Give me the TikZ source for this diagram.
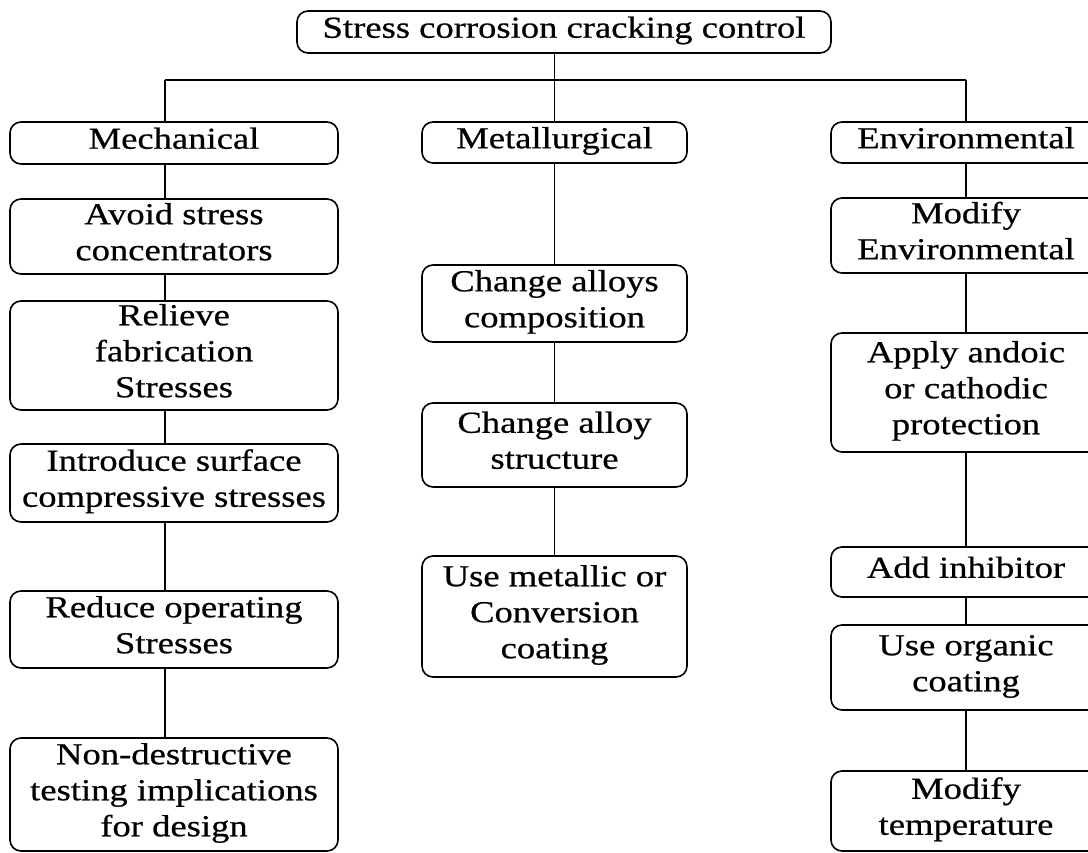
\documentclass[tikz,border=0pt]{standalone}
\usepackage{fontspec}
\setmainfont{Liberation Serif}[FakeStretch=1.2,FakeBold=0.6]
\newcommand{\sk}{\rule[-12pt]{0pt}{35.5pt}}
\begin{document}
\begin{tikzpicture}[x=1pt,y=-1pt,
  box/.style={draw, rounded corners=11pt, line width=1.6pt, inner sep=0pt, align=center,
    font=\fontsize{30.5}{36}\selectfont},
  lbox/.style={box, minimum width=328pt},
  mbox/.style={box, minimum width=265pt},
  rbox/.style={box, minimum width=270pt},
  conn/.style={line width=1.6pt}]
\useasboundingbox (0,0) rectangle (1088,853);
% top
\node[box, minimum width=534pt, minimum height=42pt] (top) at (564,32) {\sk Stress corrosion cracking control};
% left column
\node[lbox, minimum height=42pt] (mech) at (174,143) {\sk Mechanical};
\node[lbox, minimum height=75pt] (avoid) at (174,236.5) {\sk Avoid stress\\\sk concentrators};
\node[lbox, minimum height=109pt] (relieve) at (174,355.5) {\sk Relieve\\\sk fabrication\\\sk Stresses};
\node[lbox, minimum height=78pt] (intro) at (174,483) {\sk Introduce surface\\\sk compressive stresses};
\node[lbox, minimum height=77pt] (reduce) at (174,629.5) {\sk Reduce operating\\\sk Stresses};
\node[lbox, minimum height=113pt] (ndt) at (174,794.5) {\sk Non-destructive\\\sk testing implications\\\sk for design};
% middle column
\node[mbox, minimum height=41pt] (met) at (554.5,142.5) {\sk Metallurgical};
\node[mbox, minimum height=77pt] (comp) at (554.5,303.5) {\sk Change alloys\\\sk composition};
\node[mbox, minimum height=84pt] (struct) at (554.5,445) {\sk Change alloy\\\sk structure};
\node[mbox, minimum height=121pt] (metal) at (554.5,616.5) {\sk Use metallic or\\\sk Conversion\\\sk coating};
% right column
\node[rbox, minimum height=41pt] (env) at (966,142.5) {\sk Environmental};
\node[rbox, minimum height=75pt] (modenv) at (966,235.5) {\sk Modify\\\sk Environmental};
\node[rbox, minimum height=119pt] (apply) at (966,392.5) {\sk Apply andoic\\\sk or cathodic\\\sk protection};
\node[rbox, minimum height=50pt] (inhib) at (966,572) {\sk Add inhibitor};
\node[rbox, minimum height=85pt] (organic) at (966,667.5) {\sk Use organic\\\sk coating};
\node[rbox, minimum height=80pt] (temp) at (966,811) {\sk Modify\\\sk temperature};
% connectors
\coordinate (hl) at (165,80);
\coordinate (hr) at (966,80);
\coordinate (colL) at (165,0);
\draw[conn] (hl) -- (hr);
\draw[conn] (hl) -- (mech.north -| hl);
\draw[conn] (hr) -- (env.north);
\draw[conn] (top.south -| met.north) -- (met.north);
\draw[conn] (mech.south -| colL) -- (avoid.north -| colL);
\draw[conn] (avoid.south -| colL) -- (relieve.north -| colL);
\draw[conn] (relieve.south -| colL) -- (intro.north -| colL);
\draw[conn] (intro.south -| colL) -- (reduce.north -| colL);
\draw[conn] (reduce.south -| colL) -- (ndt.north -| colL);
\draw[conn] (met.south) -- (comp.north);
\draw[conn] (comp.south) -- (struct.north);
\draw[conn] (struct.south) -- (metal.north);
\draw[conn] (env.south) -- (modenv.north);
\draw[conn] (modenv.south) -- (apply.north);
\draw[conn] (apply.south) -- (inhib.north);
\draw[conn] (inhib.south) -- (organic.north);
\draw[conn] (organic.south) -- (temp.north);
\end{tikzpicture}
\end{document}
